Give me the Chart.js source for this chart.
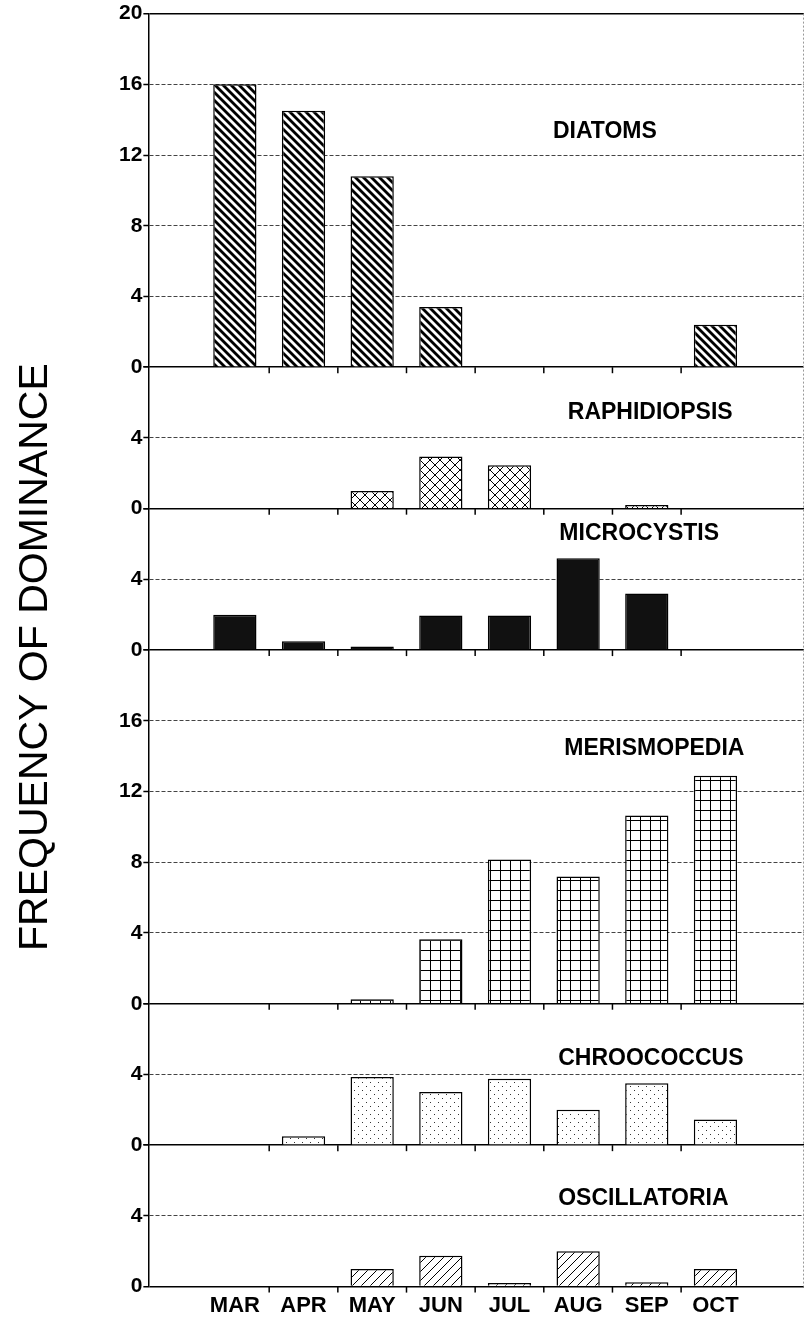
<!DOCTYPE html>
<html lang="en">
<head>
<meta charset="UTF-8">
<title>Frequency of dominance</title>
<style>
    body { margin: 0; background: #fff; }
    .wrap { width: 809px; height: 1325px; }
</style>
<script src="https://cdn.jsdelivr.net/npm/chart.js"></script>
</head>
<body>
<div class="wrap"><canvas id="chart"></canvas></div>
<script>
    // months as numbers on a linear x axis, names for the tick labels
    const months = [3, 4, 5, 6, 7, 8, 9, 10];
    const monthNames = ['MAR', 'APR', 'MAY', 'JUN', 'JUL', 'AUG', 'SEP', 'OCT'];

    // frequency of dominance per taxon
    const diatoms      = [16, 14.5, 10.8, 3.4, 0, 0, 0, 2.4];
    const raphidiopsis = [0, 0, 1.0, 2.95, 2.45, 0, 0.2, 0];
    const microcystis  = [2.0, 0.5, 0.2, 1.95, 1.95, 5.2, 3.2, 0];
    const merismopedia = [0, 0, 0.25, 3.65, 8.15, 7.2, 10.65, 12.9];
    const chroococcus  = [0, 0.5, 3.85, 3.0, 3.75, 2.0, 3.5, 1.45];
    const oscillatoria = [0, 0, 1.0, 1.75, 0.2, 2.0, 0.25, 1.0];

    const FONT = "'Liberation Sans', Arial, sans-serif";

    function makePattern(kind) {
        const c = document.createElement('canvas');
        const s = { back: 8, cross: 10, solid: 4, grid: 10, dots: 8, fwd: 9 }[kind];
        c.width = c.height = s;
        const g = c.getContext('2d');
        g.fillStyle = '#fff';
        g.fillRect(0, 0, s, s);
        g.strokeStyle = '#000';
        g.fillStyle = '#000';
        if (kind === 'back') {          // "\" thick stripes, filled as bands
            const w = 4;
            for (let o = -s; o <= s; o += s) {
                g.beginPath();
                g.moveTo(o, 0); g.lineTo(o + w, 0);
                g.lineTo(o + w + s, s); g.lineTo(o + s, s);
                g.closePath();
                g.fill();
            }
        } else if (kind === 'fwd') {    // "/" thin stripes
            g.lineWidth = 1;
            for (let o = -s; o <= s; o += s) {
                g.beginPath(); g.moveTo(o, s); g.lineTo(o + s, 0); g.stroke();
            }
        } else if (kind === 'cross') {
            g.lineWidth = 1;
            for (let o = -s; o <= s; o += s) {
                g.beginPath(); g.moveTo(o, 0); g.lineTo(o + s, s); g.stroke();
                g.beginPath(); g.moveTo(o, s); g.lineTo(o + s, 0); g.stroke();
            }
        } else if (kind === 'grid') {
            g.lineWidth = 1;
            g.beginPath(); g.moveTo(0.5, 0); g.lineTo(0.5, s); g.stroke();
            g.beginPath(); g.moveTo(0, 0.5); g.lineTo(s, 0.5); g.stroke();
        } else if (kind === 'dots') {
            g.fillStyle = '#333';
            g.fillRect(2, 2, 1, 1);
            g.fillRect(6, 6, 1, 1);
        } else if (kind === 'solid') {
            g.fillStyle = '#111';
            g.fillRect(0, 0, s, s);
        }
        return g.createPattern(c, 'repeat');
    }

    // panels from top to bottom
    const panels = [
        { id: 'yDia', name: 'DIATOMS',      data: diatoms,      max: 20, fill: 'back',  lx: 8.39, ly: 13.3 },
        { id: 'yRap', name: 'RAPHIDIOPSIS', data: raphidiopsis, max: 8,  fill: 'cross', lx: 9.05, ly: 5.45 },
        { id: 'yMic', name: 'MICROCYSTIS',  data: microcystis,  max: 8,  fill: 'solid', lx: 8.89, ly: 6.6 },
        { id: 'yMer', name: 'MERISMOPEDIA', data: merismopedia, max: 20, fill: 'grid',  lx: 9.11, ly: 14.4 },
        { id: 'yChr', name: 'CHROOCOCCUS',  data: chroococcus,  max: 8,  fill: 'dots',  lx: 9.06, ly: 4.9 },
        { id: 'yOsc', name: 'OSCILLATORIA', data: oscillatoria, max: 8,  fill: 'fwd',   lx: 8.95, ly: 5.0 }
    ];

    const boundaries = months.slice(0, -1).map(m => m + 0.5);

    const scales = {
        x: {
            type: 'linear',
            offset: false,
            min: 1.74,
            max: 11.29,
            grid: { display: false, drawTicks: false },
            border: { display: false },
            afterBuildTicks: (axis) => { axis.ticks = months.map(v => ({ value: v })); },
            ticks: {
                autoSkip: false,
                maxRotation: 0,
                padding: 6,
                color: '#000',
                font: { family: FONT, size: 22, weight: 'bold' },
                callback: (v) => monthNames[months.indexOf(v)]
            }
        }
    };

    panels.forEach((p, k) => {
        const top = k === 0;
        scales[p.id] = {
            type: 'linear',
            position: 'left',
            stack: 'panels',
            stackWeight: p.max,
            weight: panels.length - k,
            min: 0,
            max: p.max,
            grid: {
                color: (c) => {
                    const v = c.tick.value;
                    if (v === 0 || (top && v === p.max)) return '#000';
                    if (v === p.max) return 'transparent';
                    return v % 4 === 0 ? '#444' : 'transparent';
                },
                lineWidth: (c) => (c.tick.value === 0 || c.tick.value === p.max) ? 1.5 : 1,
                tickColor: '#000',
                tickLength: 5,
                tickWidth: 1.5
            },
            border: {
                color: '#000',
                width: 1.5,
                dash: (c) => (c.tick && c.tick.value % 4 === 0 && c.tick.value !== 0 && c.tick.value !== p.max) ? [4, 2] : []
            },
            ticks: {
                stepSize: 2,
                padding: 1,
                color: '#000',
                font: { family: FONT, size: 21, weight: 'bold' },
                callback: (v, i, ticks) => (v % 4 === 0 && (top || i < ticks.length - 1)) ? v : ''
            }
        };
    });

    const decor = {
        id: 'decor',
        afterDatasetsDraw(chart) {
            const { ctx, chartArea } = chart;
            const xs = chart.scales.x;
            ctx.save();
            // faint right frame
            ctx.strokeStyle = '#999';
            ctx.lineWidth = 1;
            ctx.setLineDash([2, 2]);
            ctx.beginPath();
            ctx.moveTo(chartArea.right - 0.5, chartArea.top);
            ctx.lineTo(chartArea.right - 0.5, chartArea.bottom);
            ctx.stroke();
            ctx.setLineDash([]);

            panels.forEach(p => {
                const ys = chart.scales[p.id];
                const y0 = ys.getPixelForValue(0);
                ctx.strokeStyle = '#000';
                ctx.lineWidth = 1.5;
                boundaries.forEach(b => {
                    const px = xs.getPixelForValue(b);
                    ctx.beginPath();
                    ctx.moveTo(px, y0);
                    ctx.lineTo(px, y0 + 6);
                    ctx.stroke();
                });
                ctx.fillStyle = '#000';
                ctx.font = 'bold 23px ' + FONT;
                ctx.textAlign = 'center';
                ctx.textBaseline = 'middle';
                ctx.fillText(p.name, xs.getPixelForValue(p.lx), ys.getPixelForValue(p.ly));
            });

            // y axis title
            ctx.translate(36, (chartArea.top + chartArea.bottom) / 2 + 7);
            ctx.rotate(-Math.PI / 2);
            ctx.font = '41px ' + FONT;
            ctx.fillText('FREQUENCY OF DOMINANCE', 0, 0);
            ctx.restore();
        }
    };

    new Chart(document.getElementById('chart'), {
        type: 'bar',
        data: {
            labels: months,
            datasets: panels.map(p => ({
                label: p.name,
                data: p.data,
                xAxisID: 'x',
                yAxisID: p.id,
                grouped: false,
                backgroundColor: makePattern(p.fill),
                borderColor: '#000',
                borderWidth: 1.5,
                categoryPercentage: 1,
                barPercentage: 0.63
            }))
        },
        options: {
            responsive: true,
            maintainAspectRatio: false,
            animation: false,
            layout: { padding: { left: 118, right: 5, top: 6, bottom: 0 } },
            plugins: {
                legend: { display: false },
                tooltip: { enabled: false }
            },
            scales: scales
        },
        plugins: [decor]
    });
</script>
</body>
</html>
